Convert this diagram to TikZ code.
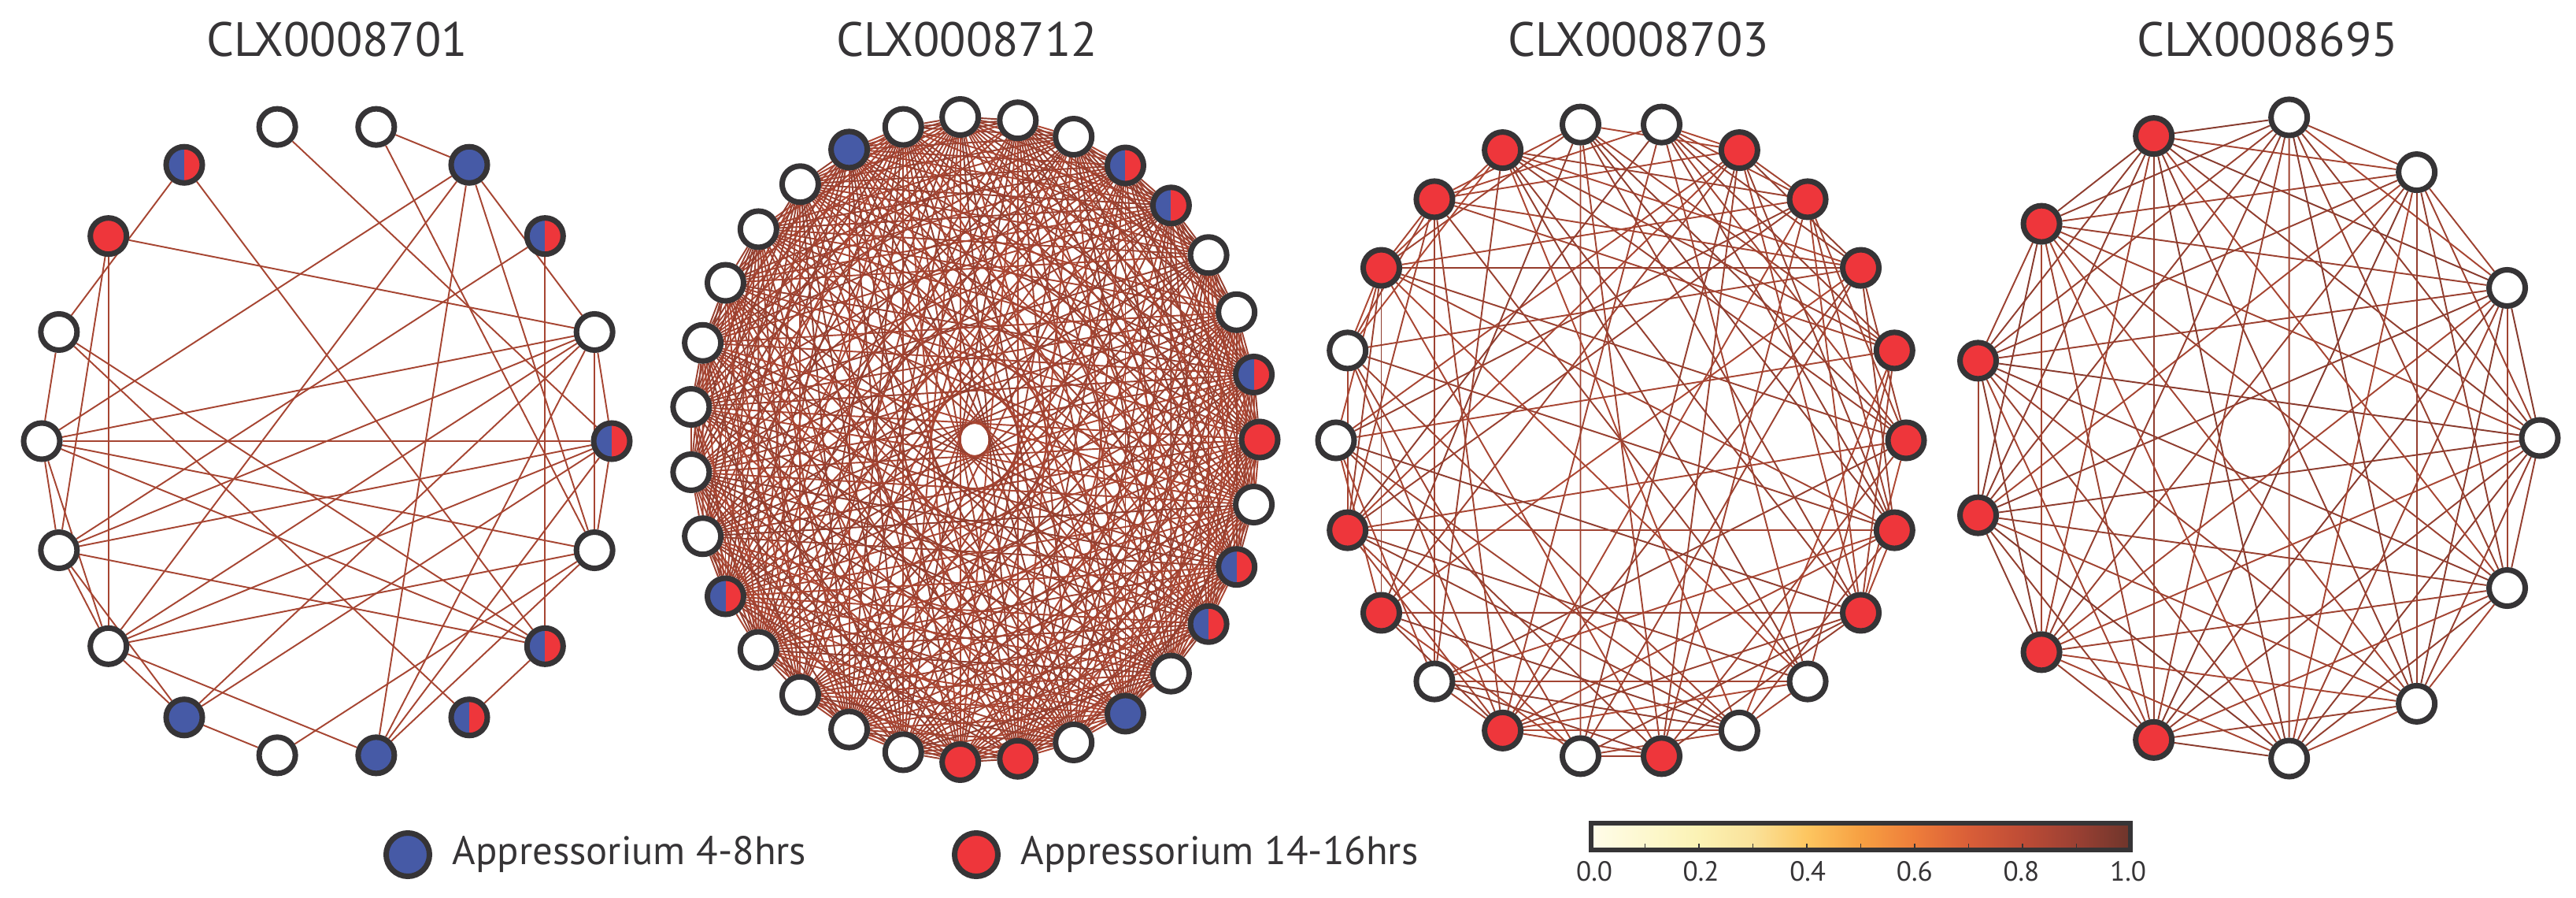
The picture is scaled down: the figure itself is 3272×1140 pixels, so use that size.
\documentclass[tikz,border=0pt]{standalone}
\usepackage{fontspec}
\setmainfont{PT Sans}
\usetikzlibrary{backgrounds, positioning}

\definecolor{ink}{HTML}{363436}
\definecolor{earlyblue}{HTML}{465AA6}
\definecolor{latered}{HTML}{EE363B}
\definecolor{linklo}{HTML}{B84B35}
\definecolor{linkhi}{HTML}{7C372C}
\definecolor{cb0}{HTML}{FFFCE9}
\definecolor{cb1}{HTML}{FDF8CF}
\definecolor{cb2}{HTML}{FBF2B4}
\definecolor{cb3}{HTML}{FAE29A}
\definecolor{cb4}{HTML}{FDC660}
\definecolor{cb5}{HTML}{F7A042}
\definecolor{cb6}{HTML}{EE7D3A}
\definecolor{cb7}{HTML}{D95E38}
\definecolor{cb8}{HTML}{BE4C36}
\definecolor{cb9}{HTML}{9A4033}
\definecolor{cb10}{HTML}{6E352B}

\pgfdeclarehorizontalshading{heat}{100bp}{color(0bp)=(cb0); color(25bp)=(cb0); color(30bp)=(cb1);
  color(35bp)=(cb2); color(40bp)=(cb3); color(45bp)=(cb4); color(50bp)=(cb5); color(55bp)=(cb6);
  color(60bp)=(cb7); color(65bp)=(cb8); color(70bp)=(cb9); color(75bp)=(cb10); color(100bp)=(cb10)}

\tikzset{
  gene/.style={circle, draw=ink, line width=0.07cm, fill=white, inner sep=0pt, minimum size=0.46cm},
  early/.style={gene, fill=earlyblue},
  late/.style={gene, fill=latered},
  mixed/.style={gene, path picture={
      \fill[earlyblue] (path picture bounding box.south west) rectangle (path picture bounding box.north);
      \fill[latered] (path picture bounding box.south) rectangle (path picture bounding box.north east);}},
  link/.style={line width=0.55pt, draw=linklo!70!linkhi},
  title/.style={font=\fontsize{17.4}{20}\selectfont, text=ink, anchor=base, inner sep=0pt},
  keytext/.style={font=\fontsize{14.4}{17}\selectfont, text=ink, inner sep=0pt},
  scalelabel/.style={font=\fontsize{10}{12}\selectfont, text=ink, anchor=base, inner sep=0pt}
}

\begin{document}
\begin{tikzpicture}[x=0.01cm, y=-0.01cm]
  \useasboundingbox (0,0) rectangle (3272,1140);

  \node[title] (t701) at (428,72) {CLX0008701};
  \node[title] (t712) at (1228,72) {CLX0008712};
  \node[title] (t703) at (2081,72) {CLX0008703};
  \node[title] (t695) at (2880,72) {CLX0008695};

  \foreach \s [count=\k from 0] in {mixed,gene,mixed,early,gene,gene,mixed,late,gene,
      gene,gene,gene,early,gene,early,mixed,mixed,gene}
    \node[\s] (A\k) at ({415+362*cos(20*\k)},{560-405*sin(20*\k)}) {};

  \foreach \s [count=\k from 0] in {late,mixed,gene,gene,mixed,mixed,gene,gene,gene,gene,early,
      gene,gene,gene,gene,gene,gene,gene,mixed,gene,gene,gene,gene,late,late,gene,early,gene,
      mixed,mixed,gene}
    \node[\s] (B\k) at ({1238+362*cos(360*\k/31)},{558-410*sin(360*\k/31)}) {};

  \foreach \s [count=\k from 0] in {late,late,late,late,late,gene,gene,late,late,late,gene,
      gene,late,late,gene,late,gene,late,gene,gene,late,late}
    \node[\s] (C\k) at ({2059+362*cos(360*\k/22)},{559-405*sin(360*\k/22)}) {};

  \foreach \s [count=\k from 0] in {gene,gene,gene,gene,late,late,late,late,late,late,gene,gene,gene}
    \node[\s] (D\k) at ({2864+362*cos(360*\k/13)},{556-410*sin(360*\k/13)}) {};

  \begin{scope}[on background layer]
    \pgfmathsetseed{11}
    \foreach \a/\b in {4/3, 4/17, 5/0, 6/8, 6/16, 7/1, 7/11, 7/10, 3/14, 3/1, 3/17, 3/9, 3/11,
        2/16, 2/10, 1/9, 1/10, 1/11, 1/12, 1/14, 1/0, 1/17, 0/9, 0/10, 0/11, 0/12, 0/14, 0/17,
        8/16, 8/15, 8/9, 9/17, 9/16, 9/10, 9/11, 10/16, 10/11, 10/12, 11/17, 11/14, 11/12,
        12/13, 13/17, 14/17, 15/16}
      \draw[link] (A\a) -- (A\b);

    \foreach \i in {0,...,29} {
      \pgfmathtruncatemacro\first{\i+1}
      \foreach \j in {\first,...,30} {
        \pgfmathsetmacro\pick{rnd}
        \pgfmathtruncatemacro\mix{15+55*rnd}
        \ifdim\pick pt<0.88pt
          \draw[link, draw=linkhi!\mix!linklo] (B\i) -- (B\j);
        \fi
      }
    }

    \foreach \i in {0,...,20} {
      \pgfmathtruncatemacro\first{\i+1}
      \foreach \j in {\first,...,21} {
        \pgfmathsetmacro\pick{rnd}
        \pgfmathtruncatemacro\mix{15+55*rnd}
        \ifdim\pick pt<0.5pt
          \draw[link, draw=linkhi!\mix!linklo] (C\i) -- (C\j);
        \fi
      }
    }

    \foreach \i in {0,...,11} {
      \pgfmathtruncatemacro\first{\i+1}
      \foreach \j in {\first,...,12} {
        \pgfmathtruncatemacro\mix{25+60*rnd}
        \draw[link, draw=linkhi!\mix!linklo] (D\i) -- (D\j);
      }
    }
  \end{scope}

  \node[early, minimum size=0.55cm] (keyearly) at (518,1085) {};
  \node[keytext, right=0.25cm of keyearly] (keyearlytext) {Appressorium 4-8hrs};
  \node[late, minimum size=0.55cm] (keylate) at (1240,1085) {};
  \node[keytext, right=0.25cm of keylate] (keylatetext) {Appressorium 14-16hrs};

  \shade[shading=heat] (2021,1045) rectangle (2706,1079);
  \foreach \i in {1,...,9}
    \draw[ink, line width=0.35pt] ({2021+68.5*\i},1076) -- ({2021+68.5*\i},1071);
  \draw[ink, line width=0.06cm] (2021,1045) rectangle (2706,1079);
  \foreach \v [count=\i from 0] in {0.0,0.2,0.4,0.6,0.8,1.0}
    \node[scalelabel] (scale\i) at ({2025+135.6*\i},1118) {\v};
\end{tikzpicture}
\end{document}
